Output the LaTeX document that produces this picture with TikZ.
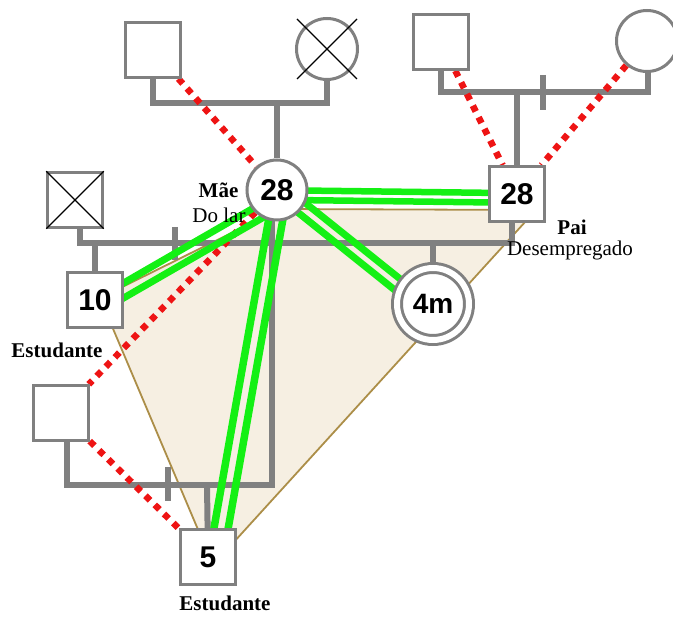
\documentclass[tikz,border=0pt]{standalone}
\usepackage{fontspec}
\setmainfont{Liberation Serif}
\newfontfamily\numfont{Liberation Sans}
\usetikzlibrary{calc,backgrounds}
\definecolor{gencol}{RGB}{128,128,128}
\definecolor{relgreen}{RGB}{20,240,20}
\definecolor{relred}{RGB}{238,20,20}
\definecolor{beige}{RGB}{246,239,226}
\definecolor{brownedge}{RGB}{172,142,72}
\tikzset{
  person/.style={draw=gencol,line width=3pt,fill=white,inner sep=0pt,
    font=\numfont\bfseries\fontsize{30}{30}\selectfont},
  male/.style={person,rectangle,minimum size=54.5pt},
  female/.style={person,circle,minimum size=60pt},
  gen/.style={draw=gencol,line width=6pt},
  crossl/.style={draw=black,line width=1.4pt},
  conflict/.style={draw=relred,line width=6.5pt,dash pattern=on 6.5pt off 6.5pt},
  greenl/.style={draw=relgreen},
  lbl/.style={font=\fontsize{21}{22}\selectfont,inner sep=0pt},
  blbl/.style={font=\bfseries\fontsize{21}{22}\selectfont,inner sep=0pt},
}
\newcommand\grel[4]{%
  \draw[greenl,line width=#4] ($(#1)!#3!90:(#2)$) -- ($(#2)!#3!-90:(#1)$);
  \draw[greenl,line width=#4] ($(#1)!#3!-90:(#2)$) -- ($(#2)!#3!90:(#1)$);}
\begin{document}
\begin{tikzpicture}[x=1pt,y=-1pt]
\useasboundingbox (0,0) rectangle (673,617);
% persons
\node[male] (gfm) at (153,50) {};
\node[female,minimum size=61pt] (gmm) at (327,49) {};
\node[male] (gfp) at (441,42) {};
\node[female,minimum size=61pt] (gmp) at (647,41) {};
\node[female] (mae) at (277,190) {28};
\node[male] (pai) at (517,194) {28};
\node[male] (xsq) at (75,200) {};
\node[male] (ten) at (95,300) {10};
\node[person,circle,minimum size=72pt,double=white,double distance=6pt,
  font=\numfont\bfseries\fontsize{28}{28}\selectfont] (fourm) at (433,304) {4m};
\node[male] (bl) at (61,413) {};
\node[male] (five) at (208,557) {5};
% crosses (deceased)
\draw[crossl] (xsq.north west) -- (xsq.south east);
\draw[crossl] (xsq.north east) -- (xsq.south west);
\draw[crossl] ($(gmm)+(-30,-30)$) -- ($(gmm)+(30,30)$);
\draw[crossl] ($(gmm)+(30,-30)$) -- ($(gmm)+(-30,30)$);
% labels
\node[blbl] (lmae) at (218.5,190) {Mãe};
\node[lbl] (lmae2) at (219,215) {Do lar};
\node[blbl] (lpai) at (572,227) {Pai};
\node[lbl] (lpai2) at (570,250) {Desempregado};
\node[blbl] (lten) at (57,350) {Estudante};
\node[blbl] (lfive) at (225,603) {Estudante};
% helper coordinates
\coordinate (mae-p) at ($(mae)+(0,5)$);
\coordinate (pai-p) at ($(pai)+(0,4)$);
\coordinate (mae-t) at ($(mae)+(0,12)$);
\coordinate (ten-t) at ($(ten)+(0,7)$);
\coordinate (mae-f) at ($(mae)+(4,0)$);
\coordinate (five-f) at ($(five)+(8,0)$);
\coordinate (mae-4) at ($(mae)+(0,-2)$);
\coordinate (fourm-4) at ($(fourm)+(0,9)$);
\begin{pgfonlayer}{background}
  % household boundary
  \draw[brownedge,fill=beige,line width=1.8pt,line join=round]
    (100,298) -- (280,209) -- (536,210) -- (213,565) -- cycle;
  % genealogy lines
  \draw[gen] (gfm.south) -- (153,103) -- (327,103) -- (gmm.south);
  \draw[gen] (277,103) -- (mae);
  \draw[gen] (gfp.south) -- (441,92) -- (648,92) -- (648,73);
  \draw[gen] (543,75) -- (543,110);
  \draw[gen] (517,92) -- (pai);
  \draw[gen] (80,229) -- (80,243) -- (512,243) -- (512,222);
  \draw[gen] (175,227) -- (175,260);
  \draw[gen] (95,243) -- (ten);
  \draw[gen] (433,243) -- (fourm);
  \draw[gen] (272,215) -- (272,485) -- (67,485) -- (67,440);
  \draw[gen] (168,467) -- (168,501);
  \draw[gen] (207,485) -- (five);
  % conflict lines
  \draw[conflict] (gfm) -- (mae);
  \draw[conflict] (gfp) -- (pai);
  \draw[conflict] (gmp) -- (pai);
  \draw[conflict] (mae) -- (bl);
  \draw[conflict] (bl) -- (five);
  % close relationships
  \grel{mae-p}{pai-p}{4.8pt}{6.5pt}
  \grel{mae-t}{ten-t}{6.5pt}{7pt}
  \grel{mae-f}{five-f}{7pt}{7.5pt}
  \grel{mae-4}{fourm-4}{6pt}{7pt}
\end{pgfonlayer}
\end{tikzpicture}
\end{document}
